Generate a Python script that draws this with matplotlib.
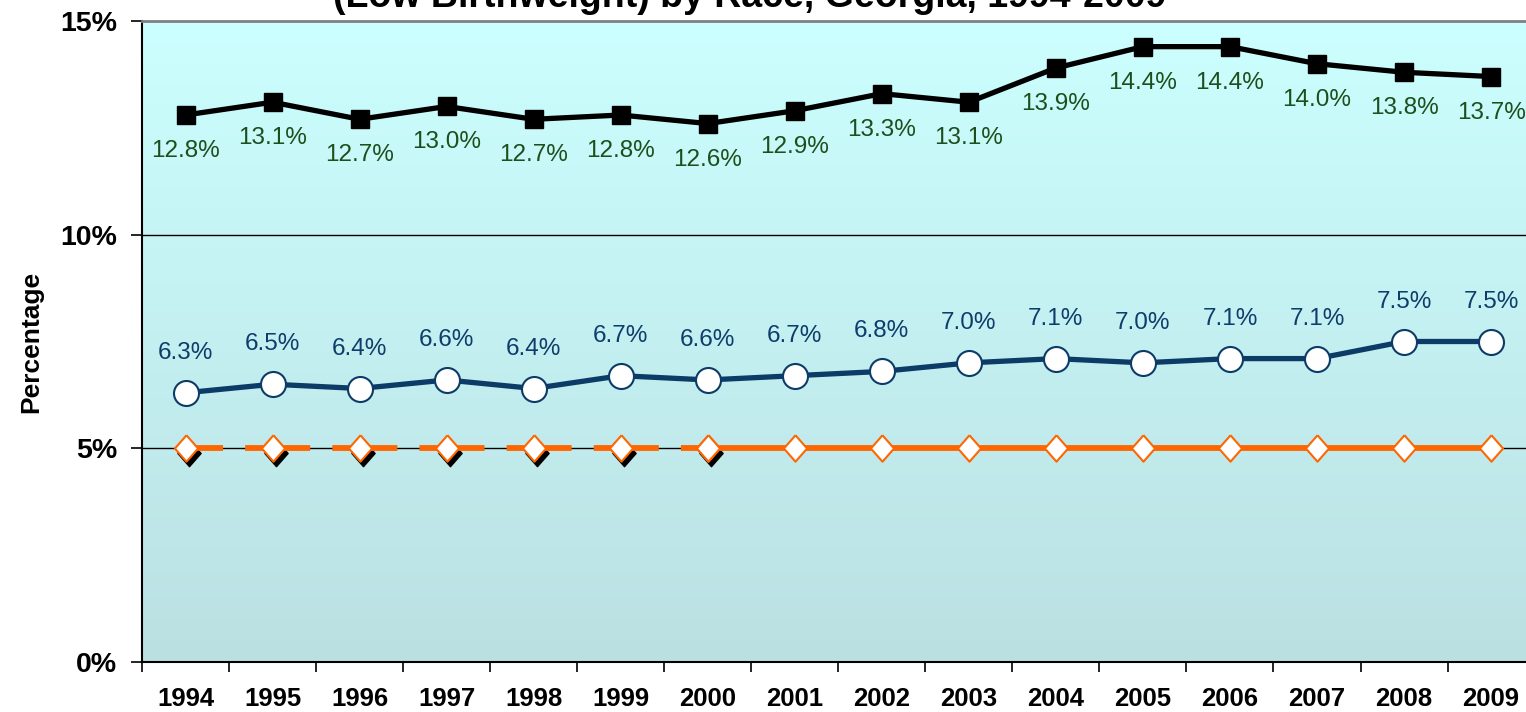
import numpy as np
import matplotlib
matplotlib.use("Agg")
import matplotlib.pyplot as plt
from matplotlib.transforms import ScaledTranslation
from matplotlib.colors import LinearSegmentedColormap

plt.rcParams['font.family'] = ['Liberation Sans', 'DejaVu Sans']

years = ['1994', '1995', '1996', '1997', '1998', '1999', '2000', '2001',
         '2002', '2003', '2004', '2005', '2006', '2007', '2008', '2009']
black_pct = [12.8, 13.1, 12.7, 13.0, 12.7, 12.8, 12.6, 12.9,
             13.3, 13.1, 13.9, 14.4, 14.4, 14.0, 13.8, 13.7]
white_pct = [6.3, 6.5, 6.4, 6.6, 6.4, 6.7, 6.6, 6.7,
             6.8, 7.0, 7.1, 7.0, 7.1, 7.1, 7.5, 7.5]
target_early = [5.0, 5.0, 5.0, 5.0, 5.0, 5.0, 5.0]   # 1994-2000, dashed
target_late = [5.0, 5.0, 5.0, 5.0, 5.0, 5.0, 5.0, 5.0, 5.0, 5.0]  # 2000-2009
title = '(Low Birthweight) by Race, Georgia, 1994-2009'

x = np.arange(len(years))
x_early = x[:len(target_early)]
x_late = x[len(target_early) - 1:]

# slightly tall diamond like the original
diamond = [(0, 1), (0.88, 0), (0, -1), (-0.88, 0), (0, 1)]

fig = plt.figure(figsize=(15.26, 7.12), dpi=100)
ax = fig.add_axes([142 / 1526, 1 - 662 / 712, (1534.6 - 142) / 1526, (662 - 21) / 712])
ax.set_xlim(-0.5, len(years) - 0.5)
ax.set_ylim(0, 15)

# gradient background
cmap = LinearSegmentedColormap.from_list('bg', ['#bbe0e2', '#ccffff'])
grad = np.linspace(0, 1, 256).reshape(-1, 1)
ax.imshow(grad, cmap=cmap, aspect='auto', origin='lower',
          extent=[0, 1, 0, 1], transform=ax.transAxes, zorder=0)

# grid
for v in [5, 10]:
    ax.axhline(v, color='black', lw=1.0, zorder=1)

# black series
ax.plot(x, black_pct, color='black', lw=3.8, marker='s', ms=13,
        mfc='black', mec='black', zorder=5)
for xi, v in zip(x, black_pct):
    ax.annotate(f'{v:.1f}%', (xi, v), xytext=(0, -36), textcoords='offset pixels',
                ha='center', va='center', fontsize=17.5, color='#1d4f1d')

# white series
ax.plot(x, white_pct, color='#0b3b66', lw=3.8, marker='o', ms=18,
        mfc='white', mec='#0b3b66', mew=1.5, zorder=5)
for xi, v in zip(x, white_pct):
    ax.annotate(f'{v:.1f}%', (xi, v), xytext=(0, 40), textcoords='offset pixels',
                ha='center', va='center', fontsize=17.5, color='#0f3d6b')

# target line
shadow = ax.transData + ScaledTranslation(3.5 / 100, -5 / 100, fig.dpi_scale_trans)
ax.plot(x_early, target_early, ls='none', marker=diamond, ms=19, mfc='black',
        mec='black', transform=shadow, zorder=3)
ax.plot(x_early, target_early, color='#ff6600', lw=4.2, ls=(4.8, (11.15, 3.79)),
        marker=diamond, ms=19, mfc='white', mec='#ff6600', mew=1.5, zorder=4)
ax.plot(x_late, target_late, color='#ff6600', lw=4.2,
        marker=diamond, ms=19, mfc='white', mec='#ff6600', mew=1.5, zorder=4)

# axes styling
ax.set_xticks(np.arange(-0.5, len(years), 1.0))
ax.set_xticklabels([])
ax.set_xticks(x, minor=True)
ax.set_xticklabels(years, minor=True, fontsize=18.5, fontweight='bold')
ax.tick_params(axis='x', which='major', length=7, width=1.2, direction='out')
ax.tick_params(axis='x', which='minor', length=0, pad=18)
ax.set_yticks([0, 5, 10, 15])
ax.set_yticklabels(['0%', '5%', '10%', '15%'], fontsize=20.5, fontweight='bold')
ax.tick_params(axis='y', length=8, width=1.2, direction='out', pad=10)
ax.set_ylabel('Percentage', fontsize=19, fontweight='bold', labelpad=12)

ax.spines['right'].set_visible(False)
ax.spines['top'].set_color('#808080')
ax.spines['top'].set_linewidth(2)
ax.spines['left'].set_linewidth(1.5)
ax.spines['bottom'].set_linewidth(1.5)

fig.text(750 / 1526, 1 - 7 / 712, title, ha='center', va='baseline',
         fontsize=27, fontweight='bold')

fig.savefig('out.png', dpi=100)
